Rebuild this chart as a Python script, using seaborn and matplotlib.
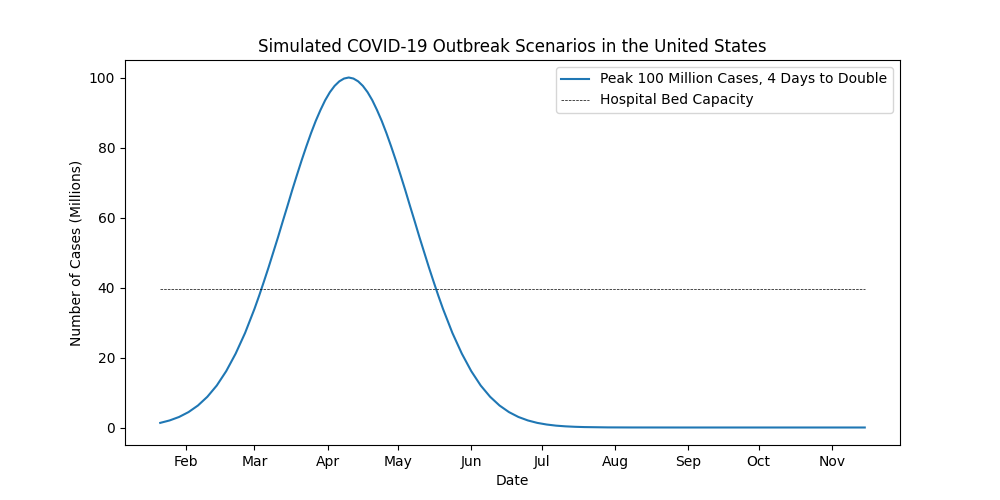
import matplotlib
matplotlib.use('Agg')
import matplotlib.pyplot as plt
import matplotlib.dates as mdates
import pandas as pd
import seaborn as sns

# dates (every 2 days near the peak, sparser in the tails)
dates = ['2020-01-21', '2020-01-25', '2020-01-29', '2020-02-02', '2020-02-06',
         '2020-02-10', '2020-02-14', '2020-02-18', '2020-02-22', '2020-02-26',
         '2020-03-01', '2020-03-03', '2020-03-05', '2020-03-07', '2020-03-09',
         '2020-03-11', '2020-03-13', '2020-03-15', '2020-03-17', '2020-03-19',
         '2020-03-21', '2020-03-23', '2020-03-25', '2020-03-27', '2020-03-29',
         '2020-03-31', '2020-04-02', '2020-04-04', '2020-04-06', '2020-04-08',
         '2020-04-10', '2020-04-12', '2020-04-14', '2020-04-16', '2020-04-18',
         '2020-04-20', '2020-04-22', '2020-04-24', '2020-04-26', '2020-04-28',
         '2020-04-30', '2020-05-02', '2020-05-04', '2020-05-06', '2020-05-08',
         '2020-05-10', '2020-05-12', '2020-05-14', '2020-05-16', '2020-05-18',
         '2020-05-20', '2020-05-24', '2020-05-28', '2020-06-01', '2020-06-05',
         '2020-06-09', '2020-06-13', '2020-06-17', '2020-06-21', '2020-06-25',
         '2020-06-29', '2020-07-03', '2020-07-07', '2020-07-11', '2020-07-15',
         '2020-07-19', '2020-07-29', '2020-08-08', '2020-08-28', '2020-09-27',
         '2020-10-27', '2020-11-15']

# cases in millions
cases = [1.32, 2.02, 3.01, 4.40, 6.28, 8.78, 12.0, 16.1, 21.1, 27.0,
         33.9, 37.7, 41.7, 45.8, 50.1, 54.4, 58.9, 63.3, 67.8, 72.1,
         76.3, 80.3, 84.1, 87.6, 90.7, 93.5, 95.8, 97.6, 98.9, 99.7,
         100.0, 99.7, 98.9, 97.6, 95.8, 93.5, 90.7, 87.6, 84.1, 80.3,
         76.3, 72.1, 67.8, 63.3, 58.9, 54.4, 50.1, 45.8, 41.7, 37.7,
         33.9, 27.0, 21.1, 16.1, 12.0, 8.78, 6.28, 4.40, 3.01, 2.02,
         1.32, 0.85, 0.53, 0.33, 0.20, 0.12, 0.03, 0.01, 0.0, 0.0,
         0.0, 0.0]

bed_dates = ['2020-01-21', '2020-11-15']
bed_capacity = [39.5, 39.5]

df = pd.DataFrame({'date': pd.to_datetime(dates), 'cases': cases})
beds = pd.DataFrame({'date': pd.to_datetime(bed_dates), 'beds': bed_capacity})

fig, ax = plt.subplots(figsize=(10, 5), dpi=100)
sns.lineplot(data=df, x='date', y='cases', ax=ax, color='#1f77b4',
             linewidth=1.5, label='Peak 100 Million Cases, 4 Days to Double')
sns.lineplot(data=beds, x='date', y='beds', ax=ax, color='black',
             linewidth=0.5, linestyle='--', label='Hospital Bed Capacity')

ax.xaxis.set_major_locator(mdates.MonthLocator())
ax.xaxis.set_major_formatter(mdates.DateFormatter('%b'))
ax.set_title('Simulated COVID-19 Outbreak Scenarios in the United States')
ax.set_xlabel('Date')
ax.set_ylabel('Number of Cases (Millions)')
ax.legend(loc='upper right')

fig.savefig('out.png')
